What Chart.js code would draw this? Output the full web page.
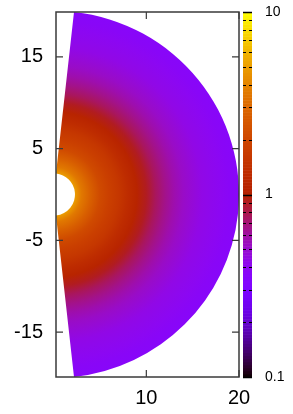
<!DOCTYPE html>
<html>
<head>
<meta charset="utf-8">
<script src="https://cdn.jsdelivr.net/npm/chart.js@4/dist/chart.umd.min.js"></script>
<style>
  html, body { margin: 0; padding: 0; background: #fff; }
  canvas { display: block; }
</style>
</head>
<body>
<canvas id="wedgeChart" width="293" height="414"></canvas>
<script>
// radial profile of the field
const radii  = [2.3, 3, 4, 5, 6, 7, 8, 9, 10, 11, 12, 13, 14, 15, 16, 17, 18, 19, 20];
const values = [5.0, 3.6, 2.75, 2.1, 1.8, 1.58, 1.3, 1.1, 0.91, 0.76, 0.66, 0.58, 0.52, 0.48, 0.44, 0.42, 0.40, 0.38, 0.37];

// wedge limits (polar angle from +y axis)
const thetaMin = 0.11;
const innerR = radii[0];
const outerR = radii[radii.length - 1];

const xTicks = [10, 20];
const yTicks = [-15, -5, 5, 15];
const cbTicks = [0.1, 1, 10];
const cbMinor = [0.2, 0.3, 0.4, 0.5, 0.6, 0.7, 0.8, 0.9, 2, 3, 4, 5, 6, 7, 8, 9];

const FONT = "'Liberation Sans', Arial, sans-serif";

// gnuplot default palette (rgbformulae 7,5,15)
function palette(p) {
    p = Math.max(0, Math.min(1, p));
    let r = Math.sqrt(p);
    let g = p * p * p;
    let b = Math.max(0, Math.sin(2 * Math.PI * p));
    return `rgb(${Math.round(r * 255)},${Math.round(g * 255)},${Math.round(b * 255)})`;
}
function valueToP(v) {
    return (Math.log10(v) + 1) / 2; // cb range 0.1 .. 10, log
}

// fixed box size, no extra padding from tick labels
function fixBox(w, h) {
    return s => {
        if (w !== null) s.width = w;
        if (h !== null) s.height = h;
        s.paddingTop = 0; s.paddingBottom = 0;
        s.paddingLeft = 0; s.paddingRight = 0;
    };
}

// draws the wedge, frame, ticks and colour box
const mapPlugin = {
    id: "mapPlugin",
    beforeDatasetsDraw(chart) {
        const ctx = chart.ctx;
        const xs = chart.scales.x, ys = chart.scales.y, cb = chart.scales.cb;
        const area = chart.chartArea;

        // heat map wedge
        const cx = xs.getPixelForValue(0), cy = ys.getPixelForValue(0);
        const kx = xs.getPixelForValue(1) - cx;
        const ky = ys.getPixelForValue(1) - cy;
        ctx.save();
        ctx.beginPath();
        ctx.rect(area.left, area.top, area.right - area.left, area.bottom - area.top);
        ctx.clip();
        ctx.translate(cx, cy);
        ctx.scale(kx, ky);
        let grad = ctx.createRadialGradient(0, 0, 0, 0, 0, outerR);
        grad.addColorStop(0, palette(valueToP(values[0])));
        radii.forEach((r, i) => grad.addColorStop(r / outerR, palette(valueToP(values[i]))));
        ctx.beginPath();
        ctx.arc(0, 0, outerR, Math.PI / 2 - thetaMin, -Math.PI / 2 + thetaMin, true);
        ctx.arc(0, 0, innerR, -Math.PI / 2 + thetaMin, Math.PI / 2 - thetaMin, false);
        ctx.closePath();
        ctx.fillStyle = grad;
        ctx.fill();
        ctx.restore();

        // frame + inward ticks
        ctx.save();
        ctx.strokeStyle = "#3a3a3a";
        ctx.lineWidth = 1.5;
        ctx.strokeRect(area.left, area.top, area.right - area.left, area.bottom - area.top);
        ctx.lineWidth = 1.2;
        const tl = 7;
        ctx.beginPath();
        xTicks.forEach(v => {
            let px = xs.getPixelForValue(v);
            ctx.moveTo(px, area.bottom); ctx.lineTo(px, area.bottom - tl);
            ctx.moveTo(px, area.top); ctx.lineTo(px, area.top + tl);
        });
        yTicks.forEach(v => {
            let py = ys.getPixelForValue(v);
            ctx.moveTo(area.left, py); ctx.lineTo(area.left + tl, py);
            ctx.moveTo(area.right, py); ctx.lineTo(area.right - tl, py);
        });
        ctx.stroke();
        ctx.restore();

        // colour box
        const bx = cb.left + 4, bw = 9;
        const steps = 120;
        ctx.save();
        for (let i = 0; i < steps; i++) {
            let p0 = i / steps, p1 = (i + 1) / steps;
            let y0 = cb.getPixelForValue(Math.pow(10, 2 * p0 - 1));
            let y1 = cb.getPixelForValue(Math.pow(10, 2 * p1 - 1));
            ctx.fillStyle = palette((p0 + p1) / 2);
            ctx.fillRect(bx, y1, bw, y0 - y1 + 0.5);
        }
        ctx.strokeStyle = "#000";
        ctx.lineWidth = 1;
        ctx.beginPath();
        cbMinor.forEach(v => {
            let py = Math.round(cb.getPixelForValue(v)) + 0.5;
            ctx.moveTo(bx, py); ctx.lineTo(bx + 3, py);
            ctx.moveTo(bx + bw, py); ctx.lineTo(bx + bw - 3, py);
        });
        ctx.stroke();
        ctx.lineWidth = 1.5;
        ctx.beginPath();
        cbTicks.forEach(v => {
            let py = Math.round(cb.getPixelForValue(v)) + 0.5;
            ctx.moveTo(bx, py); ctx.lineTo(bx + bw, py);
        });
        ctx.stroke();
        ctx.restore();
    }
};

let ctx = document.getElementById("wedgeChart").getContext("2d");
let wedgeChart = new Chart(ctx, {
    type: "scatter",
    data: { datasets: [] },
    options: {
        responsive: false,
        animation: false,
        devicePixelRatio: 1,
        layout: { padding: { top: 12, right: 0, bottom: 0, left: 0 } },
        plugins: { legend: { display: false }, tooltip: { enabled: false } },
        scales: {
            x: {
                type: "linear",
                min: innerR * Math.sin(thetaMin),
                max: outerR,
                afterBuildTicks: s => { s.ticks = xTicks.map(v => ({ value: v })); },
                afterFit: fixBox(null, 37),
                grid: { display: false, drawTicks: false },
                border: { display: false },
                ticks: { color: "#000", font: { family: FONT, size: 20 }, padding: 9, maxRotation: 0, autoSkip: false }
            },
            y: {
                type: "linear",
                min: -outerR * Math.cos(thetaMin),
                max: outerR * Math.cos(thetaMin),
                afterBuildTicks: s => { s.ticks = yTicks.map(v => ({ value: v })); },
                afterFit: fixBox(56, null),
                grid: { display: false, drawTicks: false },
                border: { display: false },
                ticks: { color: "#000", font: { family: FONT, size: 20 }, padding: 13, autoSkip: false }
            },
            cb: {
                type: "logarithmic",
                axis: "y",
                position: "right",
                min: 0.1,
                max: 10,
                afterBuildTicks: s => { s.ticks = cbTicks.map(v => ({ value: v })); },
                afterFit: fixBox(54, null),
                grid: { display: false, drawTicks: false },
                border: { display: false },
                ticks: {
                    color: "#000",
                    font: { family: FONT, size: 14 },
                    padding: 26,
                    autoSkip: false,
                    callback: v => String(v)
                }
            }
        }
    },
    plugins: [mapPlugin]
});
</script>
</body>
</html>
